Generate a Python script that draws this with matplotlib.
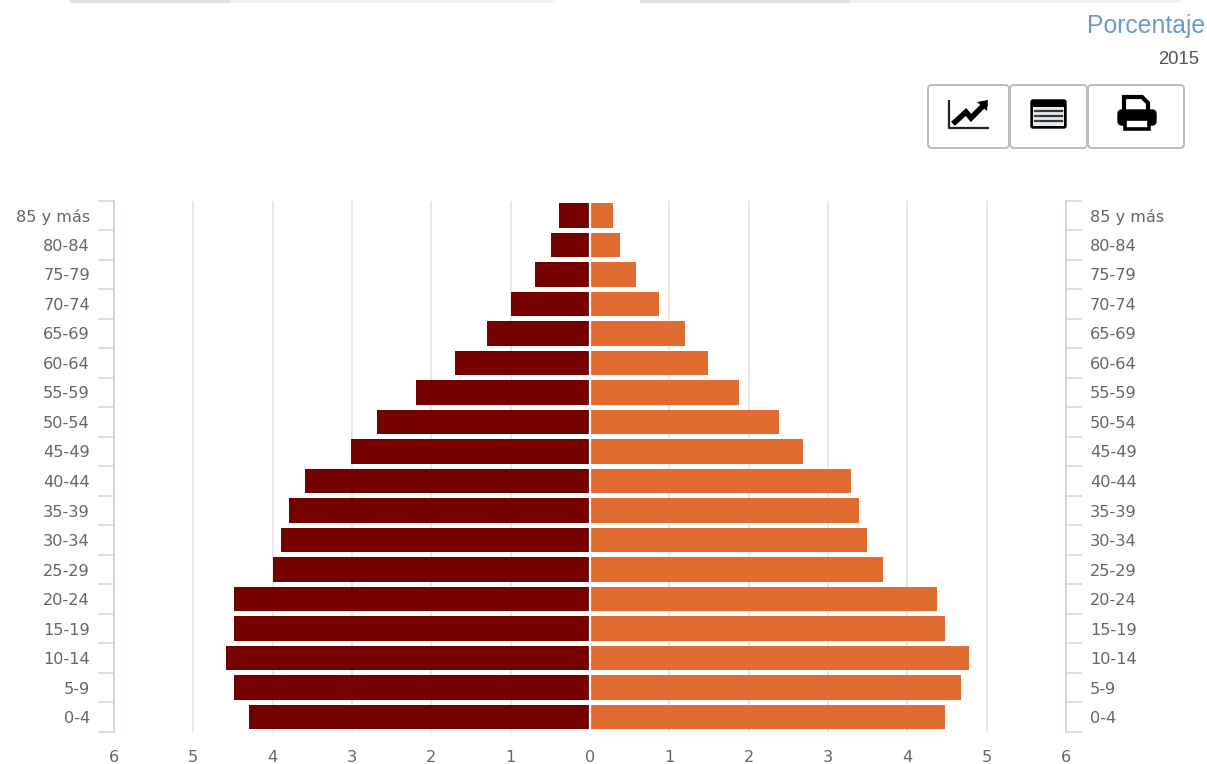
import numpy as np
import matplotlib
matplotlib.use("Agg")
import matplotlib.pyplot as plt
from matplotlib.patches import FancyBboxPatch, Rectangle, Polygon

W, H = 1207, 764

age_groups = ["0-4", "5-9", "10-14", "15-19", "20-24", "25-29", "30-34", "35-39", "40-44",
              "45-49", "50-54", "55-59", "60-64", "65-69", "70-74", "75-79", "80-84", "85 y más"]
left_values = [4.3, 4.49, 4.59, 4.49, 4.49, 4.0, 3.9, 3.8, 3.59, 3.01, 2.69, 2.19, 1.7, 1.3, 1.0, 0.69, 0.49, 0.39]
right_values = [4.48, 4.68, 4.78, 4.48, 4.38, 3.69, 3.49, 3.39, 3.29, 2.69, 2.38, 1.88, 1.49, 1.2, 0.87, 0.58, 0.38, 0.29]
x_ticks = [-6, -5, -4, -3, -2, -1, 0, 1, 2, 3, 4, 5, 6]

LEFT_COLOR = "#750000"
RIGHT_COLOR = "#e06c32"
AXIS_COLOR = "#ccd6eb"
GRID_COLOR = "#e6e6e6"
LABEL_COLOR = "#666666"
TICK_SIZE = 11.6

plt.rcParams["font.family"] = ["DejaVu Sans"]

fig = plt.figure(figsize=(W / 100, H / 100), dpi=100)
ax = fig.add_axes([114 / W, 1 - 732 / H, (1066 - 114) / W, (732 - 200.5) / H])

y = np.arange(len(age_groups))
ax.barh(y, -np.array(left_values), height=0.83, color=LEFT_COLOR, zorder=3)
ax.barh(y, right_values, height=0.83, color=RIGHT_COLOR, zorder=3)
ax.axvline(0, color="white", lw=1.6, zorder=4)

ax.set_xlim(-6, 6)
ax.set_ylim(-0.5, len(age_groups) - 0.5)
for t in x_ticks:
    if t not in (-6, 0, 6):
        ax.axvline(t, color=GRID_COLOR, lw=1.3, zorder=1)

ax.set_xticks(x_ticks)
ax.set_xticklabels([str(abs(t)) for t in x_ticks], fontsize=TICK_SIZE, color=LABEL_COLOR)
ax.tick_params(axis="x", length=0, pad=13)

for s in ("top", "bottom"):
    ax.spines[s].set_visible(False)
for s in ("left", "right"):
    ax.spines[s].set_color(AXIS_COLOR)
    ax.spines[s].set_linewidth(1.3)

edges = np.arange(len(age_groups) + 1) - 0.5
ax.set_yticks(y)
ax.set_yticklabels(age_groups, fontsize=TICK_SIZE, color=LABEL_COLOR)
ax.set_yticks(edges, minor=True)
ax.tick_params(axis="y", which="major", length=0, pad=17.3)
ax.tick_params(axis="y", which="minor", length=11.5, width=1.1, color=AXIS_COLOR)

ax_r = ax.twinx()
ax_r.set_ylim(ax.get_ylim())
ax_r.set_yticks(y)
ax_r.set_yticklabels(age_groups, fontsize=TICK_SIZE, color=LABEL_COLOR)
ax_r.set_yticks(edges, minor=True)
ax_r.tick_params(axis="y", which="major", length=0, pad=17.3)
ax_r.tick_params(axis="y", which="minor", length=11.5, width=1.1, color=AXIS_COLOR)
for s in ("top", "bottom"):
    ax_r.spines[s].set_visible(False)
for s in ("left", "right"):
    ax_r.spines[s].set_color(AXIS_COLOR)
    ax_r.spines[s].set_linewidth(1.3)

# page furniture above the chart, in pixel coordinates
over = fig.add_axes([0, 0, 1, 1], facecolor="none")
over.set_xlim(0, W)
over.set_ylim(H, 0)
over.axis("off")

for x0, x1, c in [(70, 230, "#e2e2e2"), (230, 555, "#f3f3f3"), (640, 850, "#e0e0e0"), (850, 1180, "#f1f1f1")]:
    over.add_patch(Rectangle((x0, 0), x1 - x0, 3, color=c, lw=0))

over.text(1205, 26, "Porcentaje", ha="right", va="center", color="#6a9bd0", fontsize=17.8,
          family="Liberation Sans")
over.text(1199, 60, "2015", ha="right", va="center", color="#555555", fontsize=13.3,
          family="Liberation Sans")

for x0, x1 in [(928, 1009), (1010, 1087), (1088, 1184)]:
    over.add_patch(FancyBboxPatch((x0 + 3, 88), x1 - x0 - 6, 57, boxstyle="round,pad=3,rounding_size=4",
                                  fc="white", ec="#bdbdbd", lw=1.4))

# line chart icon
over.plot([949, 949, 989], [100, 128, 128], color="#222222", lw=1.6, solid_capstyle="butt")
over.plot([955, 966, 971, 984], [122, 112, 118, 105], color="black", lw=4, solid_joinstyle="miter")
over.add_patch(Polygon([[977, 102], [988, 100], [987, 111]], color="black", lw=0))

# table icon
over.add_patch(FancyBboxPatch((1031, 100), 35, 28, boxstyle="round,pad=0,rounding_size=2", fc="black", ec="black", lw=1))
over.add_patch(Rectangle((1033, 107), 31, 19, fc="#e4eaf0", ec="none"))
for yy in (111, 116, 121):
    over.plot([1041, 1062], [yy, yy], color="#333333", lw=1.6)
    over.plot([1035, 1039], [yy, yy], color="#444444", lw=1.6)

# printer icon
over.add_patch(Polygon([[1124, 118], [1124, 97], [1142, 97], [1148, 103], [1148, 118]], fc="white", ec="black", lw=3))
over.add_patch(FancyBboxPatch((1118, 110), 38, 15, boxstyle="round,pad=0,rounding_size=4", fc="black", ec="black", lw=1))
over.add_patch(Rectangle((1125, 119), 24, 10, fc="white", ec="black", lw=2.6))

fig.savefig("out.png", dpi=100)
